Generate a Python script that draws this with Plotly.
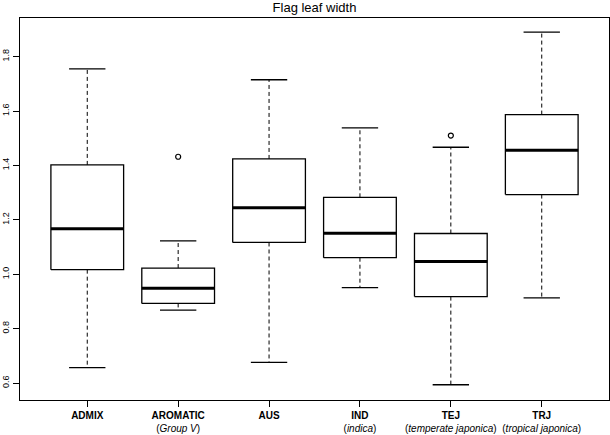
import plotly.graph_objects as go

categories = ["ADMIX", "AROMATIC", "AUS", "IND", "TEJ", "TRJ"]
subtitles = ["", "Group V", "", "indica", "temperate japonica", "tropical japonica"]
lower_whisker = [0.657, 0.868, 0.676, 0.951, 0.594, 0.913]
q1 = [1.017, 0.893, 1.117, 1.061, 0.918, 1.293]
median = [1.167, 0.949, 1.245, 1.151, 1.047, 1.456]
q3 = [1.402, 1.023, 1.424, 1.283, 1.150, 1.587]
upper_whisker = [1.755, 1.123, 1.715, 1.538, 1.467, 1.890]
outlier_group = ["AROMATIC", "TEJ"]
outlier_value = [1.432, 1.510]
y_ticks = [0.6, 0.8, 1.0, 1.2, 1.4, 1.6, 1.8]

BOXW = 0.4   # half box width (R boxwex 0.8)
CAPW = 0.2   # half staple width

pos = list(range(1, len(categories) + 1))

bx, by, mx, my, wx, wy, cx, cy = [], [], [], [], [], [], [], []
for i, p in enumerate(pos):
    bx += [p - BOXW, p + BOXW, p + BOXW, p - BOXW, p - BOXW, None]
    by += [q1[i], q1[i], q3[i], q3[i], q1[i], None]
    mx += [p - BOXW, p + BOXW, None]
    my += [median[i], median[i], None]
    wx += [p, p, None, p, p, None]
    wy += [q3[i], upper_whisker[i], None, q1[i], lower_whisker[i], None]
    cx += [p - CAPW, p + CAPW, None, p - CAPW, p + CAPW, None]
    cy += [upper_whisker[i], upper_whisker[i], None, lower_whisker[i], lower_whisker[i], None]

fig = go.Figure()
fig.add_trace(go.Scatter(x=wx, y=wy, mode="lines",
                         line=dict(color="black", width=1, dash="4px,3px"), hoverinfo="skip"))
fig.add_trace(go.Scatter(x=cx, y=cy, mode="lines",
                         line=dict(color="black", width=1.3), hoverinfo="skip"))
fig.add_trace(go.Scatter(x=bx, y=by, mode="lines", fill="toself", fillcolor="white",
                         line=dict(color="black", width=1.3), hoverinfo="skip"))
fig.add_trace(go.Scatter(x=mx, y=my, mode="lines",
                         line=dict(color="black", width=3), hoverinfo="skip"))
ox = [categories.index(g) + 1 for g in outlier_group]
fig.add_trace(go.Scatter(x=ox, y=outlier_value, mode="markers",
                         marker=dict(symbol="circle-open", size=5, color="black",
                                     line=dict(width=1.2, color="black")),
                         hoverinfo="skip"))

ticktext = []
for c, s in zip(categories, subtitles):
    t = "<b>" + c + "</b>"
    if s:
        t += "<br>(<i>" + s + "</i>)"
    ticktext.append(t)

fig.update_layout(
    width=610, height=435,
    margin=dict(l=20, r=1, t=18, b=35),
    paper_bgcolor="white", plot_bgcolor="white",
    showlegend=False,
    font=dict(family="Liberation Sans, Arial, sans-serif", color="black", size=10),
    title=dict(text="Flag leaf width", x=0.5, xref="paper", xanchor="center",
               y=1 - 7 / 435, yref="container", yanchor="middle",
               font=dict(size=13, color="black")),
    xaxis=dict(range=[0.26, 6.74], tickvals=pos, ticktext=ticktext,
               showline=True, mirror=True, linecolor="black", linewidth=1,
               ticks="outside", ticklen=6, tickcolor="black", tickwidth=1,
               showgrid=False, zeroline=False, tickfont=dict(size=10)),
    yaxis=dict(range=[0.538, 1.942], tickvals=y_ticks,
               ticktext=[f"{v:.1f}" for v in y_ticks],
               tickangle=-90,
               showline=True, mirror=True, linecolor="black", linewidth=1,
               ticks="outside", ticklen=6, tickcolor="black", tickwidth=1,
               showgrid=False, zeroline=False, tickfont=dict(size=9)),
)

fig.write_html("out.html", config={"displayModeBar": False},
               post_script="document.body.style.margin='0';document.body.style.overflow='hidden';")
